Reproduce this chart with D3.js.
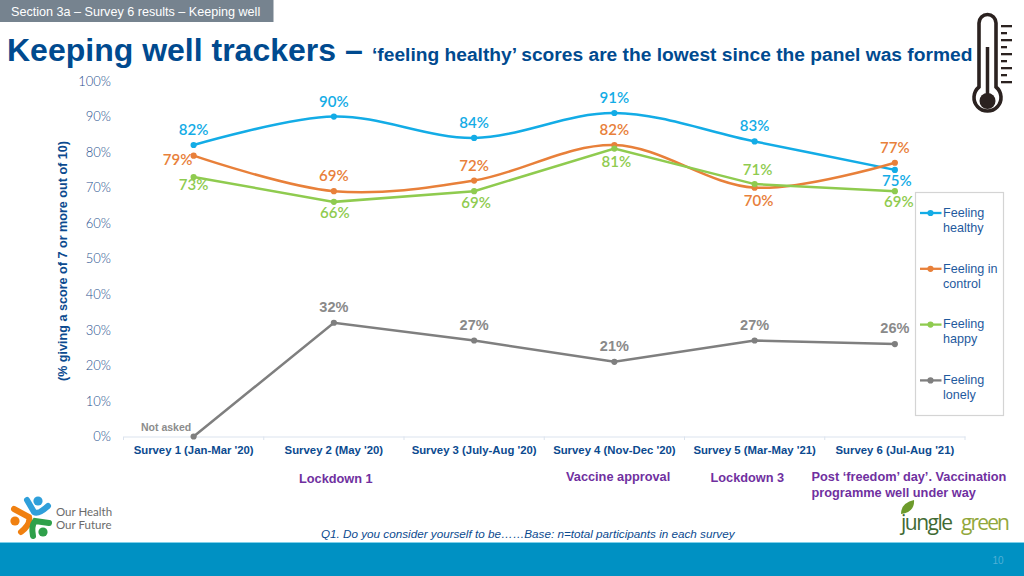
<!DOCTYPE html>
<html><head><meta charset="utf-8">
<script src="https://cdn.jsdelivr.net/npm/d3@7/dist/d3.min.js"></script>
<style>html,body{margin:0;padding:0;background:#fff}svg{display:block}text{font-family:"Liberation Sans",Arial,sans-serif}</style>
</head><body><svg id="c" width="1024" height="576"></svg>
<script>
const categories=["Survey 1 (Jan-Mar '20)","Survey 2 (May '20)","Survey 3 (July-Aug '20)","Survey 4 (Nov-Dec '20)","Survey 5 (Mar-May '21)","Survey 6 (Jul-Aug '21)"];
const healthy=[82,90,84,91,83,75];
const inControl=[79,69,72,82,70,77];
const happy=[73,66,69,81,71,69];
const lonely=[0,32,27,21,27,26];
const yTicks=[0,10,20,30,40,50,60,70,80,90,100];
const seriesNames=["Feeling healthy","Feeling in control","Feeling happy","Feeling lonely"];
const seriesColors=["#13ace6","#e8803a","#8fcb4f","#7f7f7f"];
const svg=d3.select("#c");
const x=d3.scaleBand().domain(categories).range([123.5,965]);
const y=d3.scaleLinear().domain([0,100]).range([436.5,81]);
const purple="#7030a0";

// header
svg.append("rect").attr("x",0).attr("y",0).attr("width",273.5).attr("height",22).attr("fill","#76838f");
svg.append("text").attr("x",11).attr("y",16).attr("font-size",12.6).attr("fill","#fff").text("Section 3a – Survey 6 results – Keeping well");
const t=svg.append("text").attr("x",7).attr("y",61).attr("fill","#004a8f").attr("font-weight","bold");
t.append("tspan").attr("font-size",32).text("Keeping well trackers – ");
t.append("tspan").attr("x",372).attr("font-size",19.2).text("‘feeling healthy’ scores are the lowest since the panel was formed");

// footer
svg.append("rect").attr("x",0).attr("y",543).attr("width",1024).attr("height",33).attr("fill","#0091c3");
svg.append("rect").attr("x",0).attr("y",542).attr("width",1024).attr("height",1).attr("fill","#7fd0ea");
svg.append("text").attr("x",998).attr("y",564).attr("text-anchor","middle").attr("font-size",10).attr("fill","#4fb0d6").text("10");

// axes
const gy=svg.append("g").attr("transform","translate(111,0)").call(d3.axisLeft(y).tickValues(yTicks).tickSize(0).tickPadding(0).tickFormat(d=>d+"%"));
gy.select(".domain").remove();
gy.selectAll("text").style("font-family","Lato").attr("font-size",13).attr("fill","#1f4f8e").attr("font-weight",300).attr("dy","0.32em");
const gx=svg.append("g").attr("transform","translate(0,436.5)").call(d3.axisBottom(x).tickSize(0).tickPadding(0));
gx.select(".domain").attr("stroke","#dbe3ee");
gx.selectAll("text").attr("font-size",11.35).attr("font-weight","bold").attr("fill","#0b4a8f").attr("dy","0").attr("y",17);
svg.append("g").selectAll("line").data(d3.range(7)).join("line")
 .attr("x1",i=>x.range()[0]+i*x.step()).attr("x2",i=>x.range()[0]+i*x.step())
 .attr("y1",436.5).attr("y2",440).attr("stroke","#dbe3ee");

svg.append("text").attr("transform","translate(67,261) rotate(-90)").attr("text-anchor","middle")
 .attr("font-size",12.6).attr("font-weight","bold").attr("fill","#0b4a8f").text("(% giving a score of 7 or more out of 10)");

// series
const cx=d=>x(d)+x.bandwidth()/2;
const series=[
 {v:healthy,c:seriesColors[0],curve:d3.curveCatmullRom.alpha(0.5),lab:[[0,-10],[0,-10],[0,-10],[0,-10],[0,-10],[2,16]]},
 {v:inControl,c:seriesColors[1],curve:d3.curveCatmullRom.alpha(0.5),lab:[[-16,9],[0,-10],[0,-10],[0,-10],[4,18],[0,-10]]},
 {v:happy,c:seriesColors[2],curve:d3.curveLinear,lab:[[0,13],[1,16],[2,17],[2,18],[3,-9],[4,16]]},
 {v:lonely,c:seriesColors[3],curve:d3.curveLinear,lab:[null,[0,-11],[0,-11],[0,-11],[0,-11],[0,-11]]}
];
series.forEach((s,si)=>{
 const pts=categories.map((c,i)=>({c,v:s.v[i],l:s.lab[i]}));
 const line=d3.line().x(d=>cx(d.c)).y(d=>y(d.v)).curve(s.curve);
 svg.append("path").datum(pts).attr("d",line).attr("fill","none").attr("stroke",s.c).attr("stroke-width",2.5).attr("stroke-linecap","round");
 svg.append("g").selectAll("circle").data(pts).join("circle").attr("cx",d=>cx(d.c)).attr("cy",d=>y(d.v)).attr("r",3.1).attr("fill",s.c);
 svg.append("g").selectAll("text").data(pts.filter(d=>d.l)).join("text")
  .attr("x",d=>cx(d.c)+d.l[0]).attr("y",d=>y(d.v)+d.l[1]).attr("text-anchor","middle")
  .attr("fill",si==3?"#8a8a8a":s.c).attr("font-size",si==3?14.5:15).attr("font-weight",si==3?"bold":600)
  .style("font-family",si==3?"'Liberation Sans'":"Lato").text(d=>d.v+"%");
});
svg.append("text").attr("x",141).attr("y",431).attr("font-size",10.5).attr("font-weight","bold").attr("fill","#8c8c8c").text("Not asked");

// legend
svg.append("rect").attr("x",915.5).attr("y",192.5).attr("width",88).attr("height",223).attr("fill","#fff").attr("stroke","#d4d4d4").attr("stroke-width",1.2);
const lg=svg.append("g").selectAll("g").data(seriesNames).join("g").attr("transform",(d,i)=>`translate(0,${213+i*55.8})`);
lg.append("line").attr("x1",920).attr("x2",941.5).attr("stroke",(d,i)=>seriesColors[i]).attr("stroke-width",2.3);
lg.append("circle").attr("cx",930.5).attr("r",3.1).attr("fill",(d,i)=>seriesColors[i]);
lg.each(function(d){
 const w=d.split(" ");
 const a=w.length==3?w[0]+" "+w[1]:w[0], b=w[w.length-1];
 const g=d3.select(this);
 g.append("text").attr("x",943).attr("y",3.8).attr("font-size",12.6).attr("fill","#1f5a9e").text(a);
 g.append("text").attr("x",943).attr("y",18.8).attr("font-size",12.6).attr("fill","#1f5a9e").text(b);
});

// annotations
const ann=[["Lockdown 1",299,483],["Vaccine approval",566,481],["Lockdown 3",710.5,482],["Post ‘freedom’ day’. Vaccination",811.5,481],["programme well under way",811.5,496.5]];
svg.append("g").selectAll("text").data(ann).join("text").attr("x",d=>d[1]).attr("y",d=>d[2]).attr("font-size",12.75).attr("font-weight","bold").attr("fill",purple).text(d=>d[0]);
svg.append("text").attr("x",321).attr("y",538).attr("font-size",11.7).attr("font-style","italic").attr("fill","#0b4a8f").text("Q1. Do you consider yourself to be……Base: n=total participants in each survey");

// thermometer
const th=svg.append("g");
th.append("path").attr("d","M979 87 V23 a8.5 8.5 0 0 1 17 0 V87 a13.5 13.5 0 1 1 -17 0 Z").attr("fill","#fff").attr("stroke","#2b2220").attr("stroke-width",3.6);
th.append("line").attr("x1",987.5).attr("x2",987.5).attr("y1",47).attr("y2",95).attr("stroke","#2b2220").attr("stroke-width",3.5);
th.append("circle").attr("cx",987.5).attr("cy",101).attr("r",8).attr("fill","#2b2220");
[26,40,54,68,82].forEach(v=>th.append("rect").attr("x",1001).attr("y",v-1).attr("width",11).attr("height",2.3).attr("fill","#2b2220"));
[33,47,61,75].forEach(v=>th.append("rect").attr("x",1001).attr("y",v-1).attr("width",6).attr("height",2.3).attr("fill","#2b2220"));

// Our Health Our Future logo
const lo=svg.append("g");
lo.append("circle").attr("cx",38).attr("cy",501).attr("r",4.6).attr("fill","#2f9fda");
lo.append("path").attr("d","M27 500 L34 512 Q38 515 48 506").attr("fill","none").attr("stroke","#2f9fda").attr("stroke-width",6).attr("stroke-linecap","round");
lo.append("circle").attr("cx",15).attr("cy",521).attr("r",4.6).attr("fill","#f08010");
lo.append("path").attr("d","M14 509 L29 517 Q31 524 21 532").attr("fill","none").attr("stroke","#f08010").attr("stroke-width",6).attr("stroke-linecap","round");
lo.append("circle").attr("cx",43).attr("cy",532).attr("r",4.6).attr("fill","#2fa04a");
lo.append("path").attr("d","M49 523 L35 521 Q31 526 33 536").attr("fill","none").attr("stroke","#2fa04a").attr("stroke-width",6).attr("stroke-linecap","round");
lo.append("text").attr("x",56).attr("y",516).attr("font-size",11.5).style("font-family","Lato").attr("fill","#6b6b6b").text("Our Health");
lo.append("text").attr("x",56).attr("y",528.5).attr("font-size",11.5).style("font-family","Lato").attr("fill","#6b6b6b").text("Our Future");

// jungle green logo
const jg=svg.append("g");
jg.append("path").attr("d","M901 514 Q901 503 914 500 Q915 512 901 514 Z").attr("fill","#6d9b2c");
jg.append("text").attr("x",901).attr("y",530).attr("font-size",21).style("font-family","'Open Sans'").attr("textLength",52).attr("fill","#3f6a34").text("jungle");
jg.append("text").attr("x",961).attr("y",530).attr("font-size",21).style("font-family","'Open Sans'").attr("textLength",49).attr("fill","#92a83c").text("green");
</script></body></html>
